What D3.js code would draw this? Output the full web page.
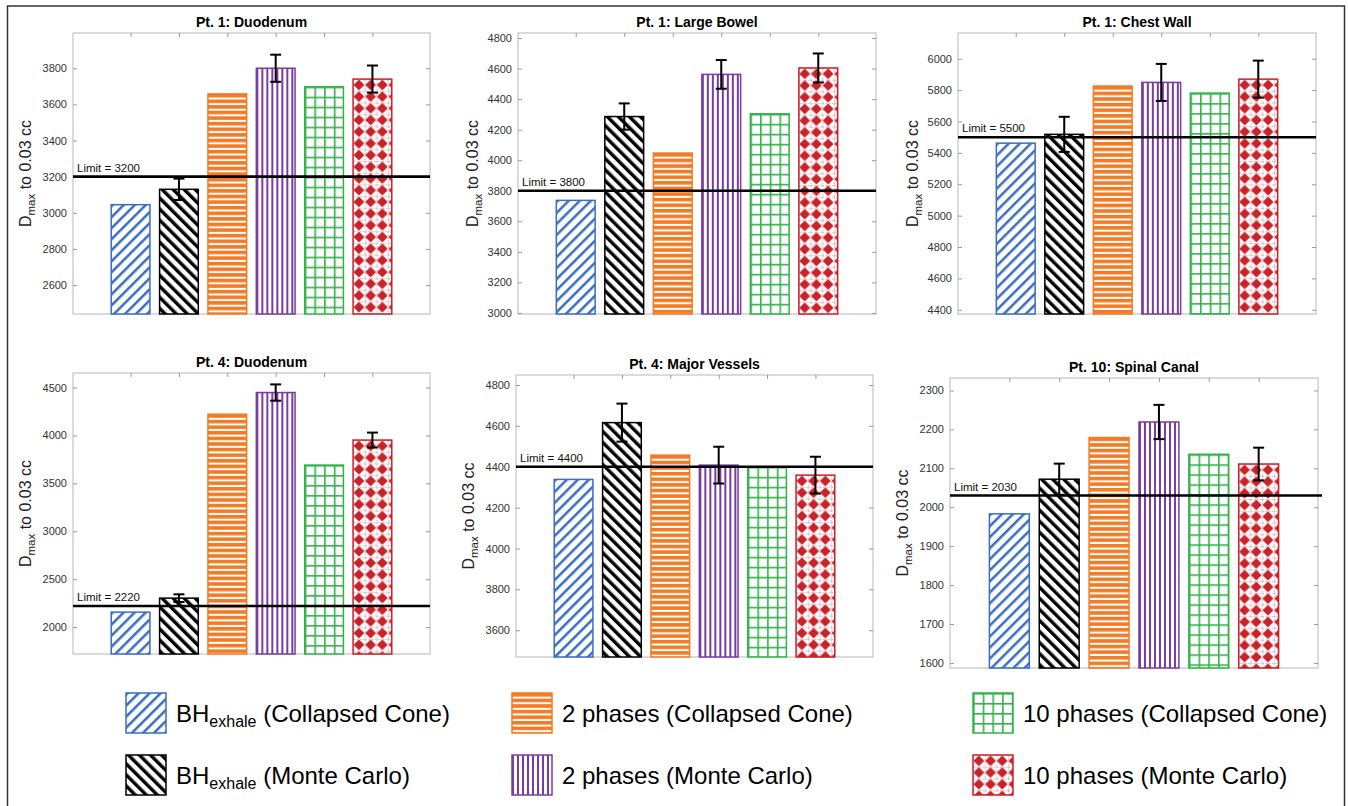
<!DOCTYPE html>
<html>
<head>
<meta charset="utf-8">
<script src="https://cdn.jsdelivr.net/npm/d3@7"></script>
<style>
  body { margin: 0; background: #fff; }
  svg { display: block; }
  text { font-family: "Liberation Sans", Arial, Helvetica, sans-serif; }
</style>
</head>
<body>
<svg id="chart" width="1348" height="806"></svg>
<script>
// ---- data ----
const seriesMain = ["BH", "BH", "2 phases", "2 phases", "10 phases", "10 phases"];
const seriesSub = ["exhale", "exhale", "", "", "", ""];
const seriesMethod = ["(Collapsed Cone)", "(Monte Carlo)", "(Collapsed Cone)", "(Monte Carlo)", "(Collapsed Cone)", "(Monte Carlo)"];
const seriesColors = ["#3a6dc2", "#000000", "#f27b26", "#7a3ca3", "#33b24b", "#c9222b"];

const panelTitles = ["Pt. 1: Duodenum", "Pt. 1: Large Bowel", "Pt. 1: Chest Wall",
                     "Pt. 4: Duodenum", "Pt. 4: Major Vessels", "Pt. 10: Spinal Canal"];
const limits = [3200, 3800, 5500, 2220, 4400, 2030];
const yDomains = [[2440, 3995], [2993, 4833], [4373, 6164], [1719, 4652], [3469, 4849], [1587, 2332]];
const yTicks = [
  [2600, 2800, 3000, 3200, 3400, 3600, 3800],
  [3000, 3200, 3400, 3600, 3800, 4000, 4200, 4400, 4600, 4800],
  [4400, 4600, 4800, 5000, 5200, 5400, 5600, 5800, 6000],
  [2000, 2500, 3000, 3500, 4000, 4500],
  [3600, 3800, 4000, 4200, 4400, 4600, 4800],
  [1600, 1700, 1800, 1900, 2000, 2100, 2200, 2300]
];
const dmaxValues = [
  [3045, 3130, 3658, 3800, 3698, 3740],
  [3737, 4286, 4047, 4562, 4304, 4604],
  [5462, 5518, 5826, 5849, 5781, 5870],
  [2156, 2302, 4222, 4448, 3691, 3952],
  [4338, 4616, 4457, 4408, 4400, 4359],
  [1983, 2072, 2179, 2219, 2136, 2111]
];
// error bars only on the Monte Carlo series
const dmaxErrors = [
  [0, 59, 0, 75, 0, 75],
  [0, 86, 0, 94, 0, 95],
  [0, 112, 0, 118, 0, 118],
  [0, 40, 0, 85, 0, 78],
  [0, 93, 0, 90, 0, 90],
  [0, 40, 0, 44, 0, 42]
];

// ---- layout ----
const plots = [
  { x0: 73, x1: 430, y0: 33, y1: 314, labelX: 25 },
  { x0: 518, x1: 876, y0: 33, y1: 314, labelX: 472 },
  { x0: 958, x1: 1316, y0: 33, y1: 314, labelX: 912 },
  { x0: 73, x1: 430, y0: 373, y1: 654, labelX: 25 },
  { x0: 516, x1: 873, y0: 375, y1: 657, labelX: 468 },
  { x0: 950, x1: 1318, y0: 378, y1: 668, labelX: 902 }
];

const svg = d3.select("#chart");
const defs = svg.append("defs");
let patCount = 0;

// one pattern per filled shape, anchored at the shape's corner
function makePattern(s, tx, ty) {
  const id = "pat" + (patCount++);
  const c = seriesColors[s];
  const p = defs.append("pattern").attr("id", id).attr("patternUnits", "userSpaceOnUse");
  if (s === 0 || s === 1) {
    const w = 7.8;
    p.attr("width", w).attr("height", w)
      .attr("patternTransform", `translate(${tx},${ty}) rotate(${s === 0 ? 45 : -45})`);
    p.append("rect").attr("width", w).attr("height", w).attr("fill", "#fff");
    p.append("rect").attr("x", 0).attr("width", s === 0 ? 2.5 : 3.4).attr("height", w).attr("fill", c);
  } else if (s === 2) {
    p.attr("width", 10).attr("height", 5.6).attr("patternTransform", `translate(${tx},${ty})`);
    p.append("rect").attr("width", 10).attr("height", 5.6).attr("fill", "#fff");
    p.append("rect").attr("y", 0).attr("width", 10).attr("height", 3.6).attr("fill", c);
  } else if (s === 3) {
    p.attr("width", 5).attr("height", 10).attr("patternTransform", `translate(${tx},${ty})`);
    p.append("rect").attr("width", 5).attr("height", 10).attr("fill", "#fff");
    p.append("rect").attr("x", 0).attr("width", 2).attr("height", 10).attr("fill", c);
  } else if (s === 4) {
    p.attr("width", 9.7).attr("height", 10).attr("patternTransform", `translate(${tx},${ty})`);
    p.append("rect").attr("width", 9.7).attr("height", 10).attr("fill", "#fff");
    p.append("rect").attr("x", 0).attr("width", 1.6).attr("height", 10).attr("fill", c);
    p.append("rect").attr("y", 0).attr("width", 9.7).attr("height", 1.6).attr("fill", c);
  } else {
    p.attr("width", 11.7).attr("height", 11.7).attr("patternTransform", `translate(${tx},${ty})`);
    p.append("rect").attr("width", 11.7).attr("height", 11.7).attr("fill", "#fff");
    p.append("path").attr("d", "M0,0.5V11.2M0.5,0H11.2").attr("stroke", c).attr("stroke-width", 0.8).attr("stroke-dasharray", "1.5,1.5");
    p.append("path").attr("d", "M5.85,0.4L11.3,5.85L5.85,11.3L0.4,5.85Z").attr("fill", c);
  }
  return `url(#${id})`;
}

const x = d3.scaleLinear().domain([-0.19, 7.19]);
const cats = d3.range(1, 7);
const barW = 0.8;

plots.forEach((pl, pi) => {
  x.range([pl.x0, pl.x1]);
  const y = d3.scaleLinear().domain(yDomains[pi]).range([pl.y1, pl.y0]);
  const g = svg.append("g");

  // axis box
  g.append("rect").attr("x", pl.x0).attr("y", pl.y0)
    .attr("width", pl.x1 - pl.x0).attr("height", pl.y1 - pl.y0)
    .attr("fill", "none").attr("stroke", "#c4c4c4").attr("stroke-width", 1.2);

  const left = g.append("g").attr("transform", `translate(${pl.x0},0)`)
    .call(d3.axisLeft(y).tickValues(yTicks[pi]).tickSize(-4).tickPadding(6).tickFormat(d3.format("d")));
  const right = g.append("g").attr("transform", `translate(${pl.x1},0)`)
    .call(d3.axisRight(y).tickValues(yTicks[pi]).tickSize(-4).tickFormat(""));
  const top = g.append("g").attr("transform", `translate(0,${pl.y0})`)
    .call(d3.axisTop(x).tickValues(cats).tickSize(-4).tickFormat(""));
  [left, right, top].forEach(a => {
    a.select(".domain").remove();
    a.selectAll(".tick line").attr("stroke", "#9a9a9a");
  });
  left.selectAll(".tick text").attr("fill", "#333").style("font-size", "11px")
    .style("font-family", '"Liberation Sans", Arial, sans-serif');

  // bars
  cats.forEach((c, s) => {
    const bx = x(c - barW / 2), bw = x(c + barW / 2) - x(c - barW / 2);
    const by = y(dmaxValues[pi][s]);
    g.append("rect").attr("x", bx).attr("y", by).attr("width", bw).attr("height", pl.y1 - by)
      .attr("fill", makePattern(s, bx, by)).attr("stroke", seriesColors[s]).attr("stroke-width", 1.5);
  });

  // limit line
  const ly = y(limits[pi]);
  g.append("line").attr("x1", pl.x0).attr("x2", pl.x1 + (pi === 5 ? 4 : 0)).attr("y1", ly).attr("y2", ly)
    .attr("stroke", "#000").attr("stroke-width", 2.6);
  g.append("text").attr("x", pl.x0 + 4).attr("y", ly - 5).attr("font-size", 11.5).attr("fill", "#111")
    .text(`Limit = ${limits[pi]}`);

  // error bars
  cats.forEach((c, s) => {
    const e = dmaxErrors[pi][s];
    if (!e) return;
    const v = dmaxValues[pi][s];
    const cx = x(c), capW = 5.5;
    const eb = g.append("g").attr("stroke", "#000").attr("stroke-width", 2);
    eb.append("line").attr("x1", cx).attr("x2", cx).attr("y1", y(v + e)).attr("y2", y(v - e));
    eb.append("line").attr("x1", cx - capW).attr("x2", cx + capW).attr("y1", y(v + e)).attr("y2", y(v + e));
    eb.append("line").attr("x1", cx - capW).attr("x2", cx + capW).attr("y1", y(v - e)).attr("y2", y(v - e));
  });

  // title
  g.append("text").attr("x", (pl.x0 + pl.x1) / 2).attr("y", pl.y0 - 6)
    .attr("text-anchor", "middle").attr("font-size", 14).attr("font-weight", "bold").attr("fill", "#000")
    .text(panelTitles[pi]);

  // y label
  const yl = g.append("text")
    .attr("transform", `translate(${pl.labelX + 6},${(pl.y0 + pl.y1) / 2}) rotate(-90)`)
    .attr("text-anchor", "middle").attr("font-size", 16).attr("fill", "#222");
  yl.append("tspan").text("D");
  yl.append("tspan").attr("font-size", 11.5).attr("dy", 4).text("max");
  yl.append("tspan").attr("dy", -4).text(" to 0.03 cc");
});

// legend
const legCols = [126, 512, 973];
const legRows = [693, 755];
seriesMain.forEach((m, s) => {
  const lx = legCols[Math.floor(s / 2)], ly = legRows[s % 2];
  svg.append("rect").attr("x", lx).attr("y", ly).attr("width", 40).attr("height", 40)
    .attr("fill", makePattern(s, lx, ly)).attr("stroke", seriesColors[s]).attr("stroke-width", 1.5);
  const t = svg.append("text").attr("x", lx + 50).attr("y", ly + 29).attr("font-size", 24).attr("fill", "#000");
  t.append("tspan").text(m);
  if (seriesSub[s]) {
    t.append("tspan").attr("font-size", 16).attr("dy", 5).text(seriesSub[s]);
    t.append("tspan").attr("dy", -5).text(" " + seriesMethod[s]);
  } else {
    t.append("tspan").text(" " + seriesMethod[s]);
  }
});

// outer frame
svg.append("rect").attr("x", 7.5).attr("y", 6).attr("width", 1337).attr("height", 812)
  .attr("fill", "none").attr("stroke", "#333").attr("stroke-width", 1.5);
</script>
</body>
</html>
